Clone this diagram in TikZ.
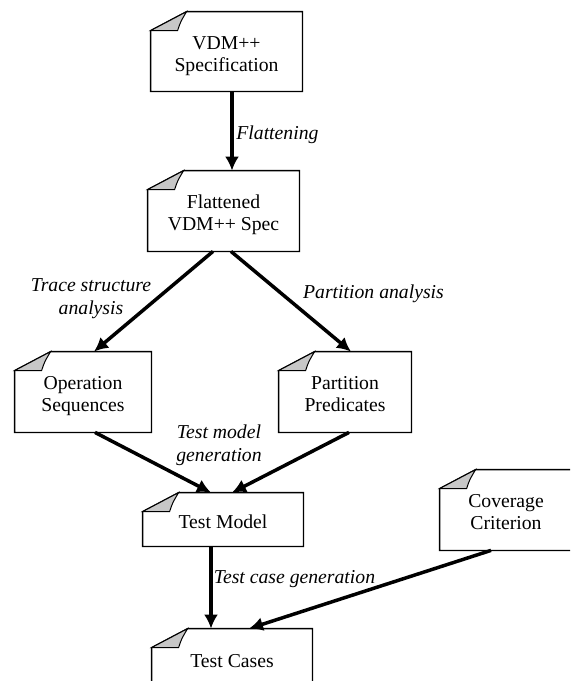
\documentclass[tikz,border=0pt]{standalone}
\usepackage{fontspec}
\setmainfont{Liberation Serif}
\usetikzlibrary{arrows.meta}
\tikzset{
    doc/.style={inner sep=0pt, align=center, font=\fontsize{9.85}{11}\selectfont},
    doctwo/.style={doc, text height=19.9pt, text depth=0pt},
    docone/.style={doc, text height=9pt, text depth=0pt},
    lbl/.style={inner sep=0pt, align=center, font=\fontsize{9.85}{11.5}\selectfont\itshape},
    flow/.style={->, line width=1.75pt},
    flap/.style={line width=.5pt, fill=black!22}
}
\begin{document}
\begin{tikzpicture}[>={Latex[length=7pt,width=7pt]}, x=.5pt, y=-.5pt]
\useasboundingbox (0,0) rectangle (570,681);
\clip (0,0) rectangle (570,681);

\node[doctwo, minimum width=75.5pt, minimum height=39.5pt] (spec) at (226.5,51.5) {VDM++\\Specification};
\node[doctwo, minimum width=75.5pt, minimum height=40pt] (flat) at (223.5,211) {Flattened\\VDM++ Spec};
\node[doctwo, minimum width=68pt, minimum height=40pt] (ops) at (83,392) {Operation\\Sequences};
\node[doctwo, minimum width=66pt, minimum height=40pt] (preds) at (345,392) {Partition\\Predicates};
\node[docone, minimum width=80pt, minimum height=26.5pt] (model) at (223,519.5) {Test Model};
\node[doctwo, minimum width=66pt, minimum height=40pt] (cov) at (506,510) {Coverage\\Criterion};
\node[docone, minimum width=80pt, minimum height=29pt] (cases) at (232,658) {Test Cases};

% boxes with the folded corner
\foreach \n in {spec,flat,ops,preds,model,cov,cases}
{
    \draw[line width=.65pt] ([yshift=-9.5pt]\n.north west) -- ([xshift=18pt]\n.north west)
        -- (\n.north east) -- (\n.south east) -- (\n.south west) -- cycle;
    \draw[flap] ([yshift=-9.5pt]\n.north west) -- ([xshift=18pt]\n.north west)
        .. controls ([xshift=15pt,yshift=-5pt]\n.north west) .. ([xshift=13.5pt,yshift=-9.5pt]\n.north west)
        -- cycle;
}

\draw[flow] ([xshift=2.75pt]spec.south) -- ([xshift=4.25pt]flat.north);
\draw[flow] ([xshift=-5.25pt]flat.south) -- ([xshift=5.5pt]ops.north);
\draw[flow] ([xshift=3.75pt]flat.south) -- ([xshift=3pt]preds.north);
\draw[flow] ([xshift=6pt]ops.south) -- ([xshift=-6pt]model.north);
\draw[flow] ([xshift=2pt]preds.south) -- ([xshift=4.5pt]model.north);
\draw[flow] ([xshift=-6pt]model.south) -- ([xshift=-10.5pt]cases.north);
\draw[flow] ([xshift=-7.5pt]cov.south) -- ([xshift=8.5pt]cases.north);

\node[lbl, anchor=west] (lflat) at (236,135) {Flattening};
\node[lbl] (ltrace) at (91,299) {Trace structure\\analysis};
\node[lbl] (lpart) at (373.5,294) {Partition analysis};
\node[lbl] (lmodel) at (219,445.5) {Test model\\generation};
\node[lbl] (lcases) at (294.5,579) {Test case generation};
\end{tikzpicture}
\end{document}
